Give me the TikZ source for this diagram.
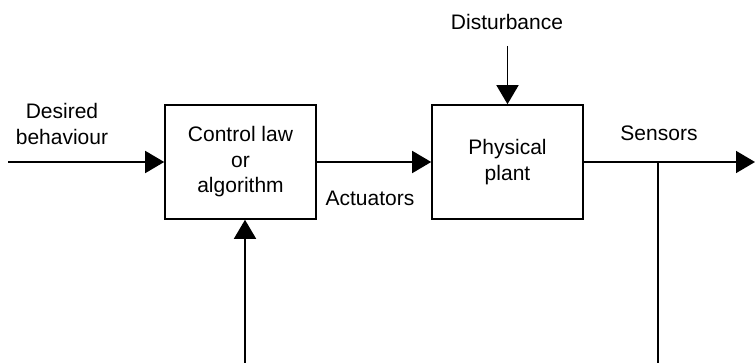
\documentclass[tikz,border=0pt]{standalone}
\usepackage{fontspec}
\setmainfont{Liberation Sans}
\usetikzlibrary{arrows.meta}
\begin{document}
\begin{tikzpicture}[x=1pt,y=-1pt,
  every node/.style={font=\fontsize{21}{25.5}\selectfont, align=center, inner sep=0pt},
  blockbox/.style={draw, line width=1.6pt, minimum width=151pt, minimum height=114pt},
  conn/.style={line width=1.6pt},
  arr/.style={conn, -{Triangle[length=19pt,width=22pt]}}]
\useasboundingbox (0,0) rectangle (755,363);
\node[blockbox] (ctrl) at (240.5,162) {Control law\\or\\algorithm};
\node[blockbox] (plant) at (507.5,162) {Physical\\plant};
\node (des) at (62,124) {Desired\\behaviour};
\node (dist) at (507,22) {Disturbance};
\node (sens) at (659,133) {Sensors};
\node (act) at (370,198) {Actuators};
\coordinate (in) at (8,162);
\coordinate (out) at (755,162);
\coordinate (dtop) at (507.5,46);
\coordinate (fb) at (245,363);
\coordinate (br) at (658,162);
\coordinate (brb) at (658,363);
\draw[arr] (in) -- (ctrl.west);
\draw[arr] (ctrl.east) -- (plant.west);
\draw[arr] (plant.east) -- (out);
\draw[arr] (dtop) -- (plant.north);
\draw[arr] (fb) -- (fb |- ctrl.south);
\draw[conn] (br) -- (brb);
\end{tikzpicture}
\end{document}
